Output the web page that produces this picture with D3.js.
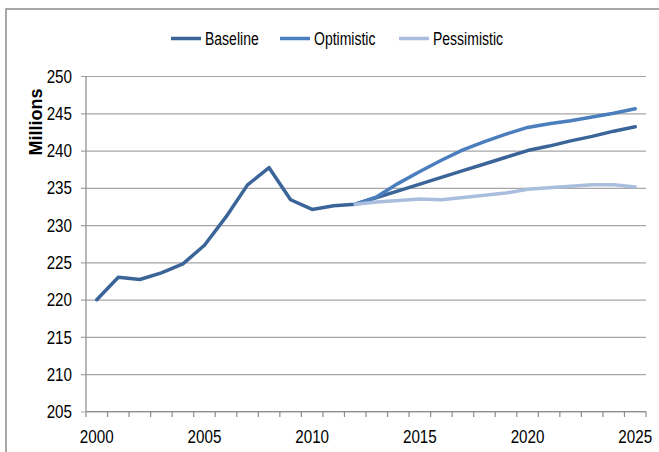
<!DOCTYPE html>
<html>
<head>
<meta charset="utf-8">
<script src="https://cdn.jsdelivr.net/npm/d3@7"></script>
<style>
  body { margin: 0; background: #fff; }
  text { font-family: "Liberation Sans", Arial, sans-serif; fill: #000; }
</style>
</head>
<body>
<script>
let years = d3.range(2000, 2026);
let baseline = [220.0, 223.0, 222.7, 223.6, 224.8, 227.3, 231.1, 235.4, 237.7, 233.4, 232.1, 232.6, 232.8,
                233.7, 234.6, 235.5, 236.4, 237.3, 238.2, 239.1, 240.0, 240.6, 241.3, 241.9, 242.6, 243.2];
let optimisticYears = d3.range(2012, 2026);
let optimistic = [232.8, 233.8, 235.6, 237.2, 238.7, 240.1, 241.2, 242.2, 243.1, 243.6, 244.0, 244.5, 245.0, 245.6];
let pessimistic = [232.8, 233.1, 233.3, 233.5, 233.4, 233.7, 234.0, 234.3, 234.8, 235.0, 235.2, 235.4, 235.4, 235.1];
let yTicks = [205, 210, 215, 220, 225, 230, 235, 240, 245, 250];
let xLabels = [2000, 2005, 2010, 2015, 2020, 2025];
let seriesNames = ["Baseline", "Optimistic", "Pessimistic"];

let width = 659;
let height = 452;
let colors = ["#3b6598", "#4a7ebd", "#a9bedd"];

let svg = d3.select("body").append("svg").attr("width", width).attr("height", height);

// squeeze text to look like a narrow face
function narrow(sel, k) {
    sel.each(function () {
        let w = this.getComputedTextLength();
        d3.select(this).attr("textLength", w * k).attr("lengthAdjust", "spacingAndGlyphs");
    });
}

// chart frame (right edge falls outside the picture)
svg.append("path")
    .attr("d", "M6,452 L6,9 L659,9")
    .attr("fill", "none").attr("stroke", "#8c8c8c").attr("stroke-width", 1.5);

let x = d3.scaleBand().domain(years).range([86, 646]).padding(0);
let y = d3.scaleLinear().domain([205, 250]).range([411.5, 76]);
let cx = (yr) => x(yr) + x.bandwidth() / 2;

// gridlines + y ticks
let yAxis = svg.append("g")
    .attr("transform", "translate(646,0)")
    .call(d3.axisLeft(y).tickValues(yTicks).tickSize(565).tickPadding(9).tickFormat(d3.format("d")));
yAxis.select(".domain").remove();
yAxis.selectAll(".tick line").attr("stroke", "#a6a6a6").attr("stroke-width", 1.2);
yAxis.selectAll(".tick text").attr("font-size", 19).attr("font-family", null).attr("fill", "#000")
    .call(narrow, 0.8);

svg.append("line").attr("x1", 86).attr("x2", 86).attr("y1", 76).attr("y2", 411.5)
    .attr("stroke", "#8c8c8c").attr("stroke-width", 1.2);

// x axis
let xg = svg.append("g");
xg.append("line").attr("x1", 86).attr("x2", 646).attr("y1", 411.5).attr("y2", 411.5)
    .attr("stroke", "#8c8c8c").attr("stroke-width", 1.2);
xg.selectAll("line.tk").data(years.concat([2026])).enter().append("line")
    .attr("class", "tk")
    .attr("x1", (d) => d === 2026 ? 646 : x(d))
    .attr("x2", (d) => d === 2026 ? 646 : x(d))
    .attr("y1", 411.5).attr("y2", 417)
    .attr("stroke", "#8c8c8c").attr("stroke-width", 1.2);
xg.selectAll("text").data(xLabels).enter().append("text")
    .attr("x", (d) => cx(d)).attr("y", 442.5)
    .attr("text-anchor", "middle").attr("font-size", 19)
    .text((d) => d)
    .call(narrow, 0.8);

svg.append("text")
    .attr("transform", "translate(42,122) rotate(-90)")
    .attr("text-anchor", "middle")
    .attr("font-weight", "bold").attr("font-size", 18)
    .text("Millions");

// lines
let line = d3.line().x((d) => cx(d[0])).y((d) => y(d[1]));
let data = [
    years.map((yr, i) => [yr, baseline[i]]),
    optimisticYears.map((yr, i) => [yr, optimistic[i]]),
    optimisticYears.map((yr, i) => [yr, pessimistic[i]])
];
svg.selectAll("path.series").data(data).enter().append("path")
    .attr("class", "series")
    .attr("d", line)
    .attr("fill", "none")
    .attr("stroke", (d, i) => colors[i])
    .attr("stroke-width", 3.5)
    .attr("stroke-linejoin", "round")
    .attr("stroke-linecap", "round");

// legend
let legendX = [171, 280, 399];
let lg = svg.selectAll("g.leg").data(seriesNames).enter().append("g")
    .attr("class", "leg")
    .attr("transform", (d, i) => "translate(" + legendX[i] + ",38.5)");
lg.append("line").attr("x1", 0).attr("x2", 30).attr("y1", 0).attr("y2", 0)
    .attr("stroke", (d, i) => colors[i]).attr("stroke-width", 3.5);
lg.append("text").attr("x", 34).attr("y", 6).attr("font-size", 17.5).text((d) => d)
    .call(narrow, 0.8);
</script>
</body>
</html>
